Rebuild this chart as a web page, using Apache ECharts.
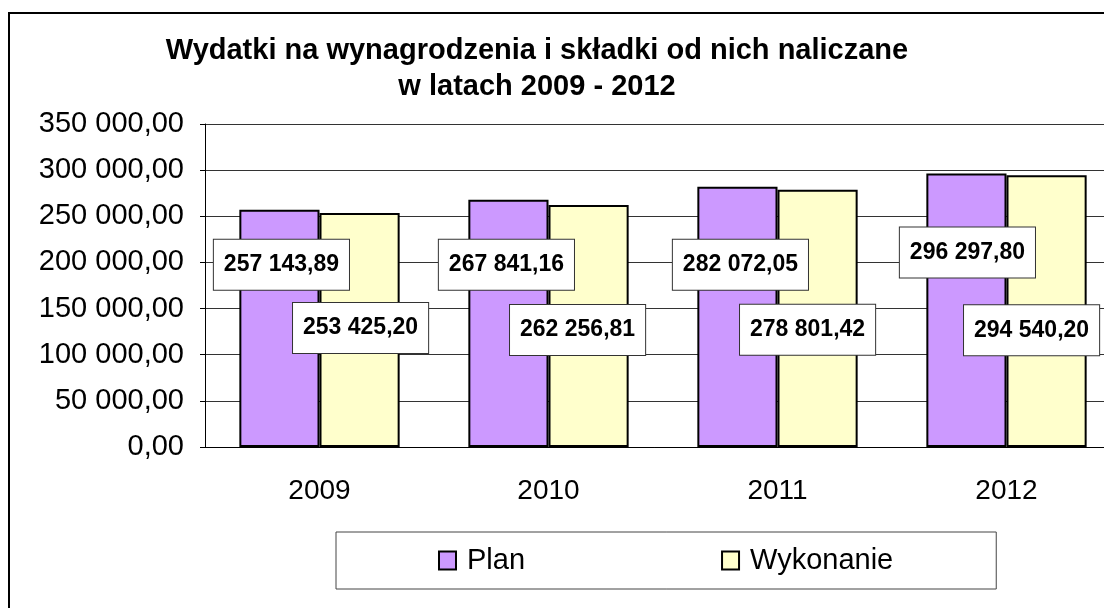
<!DOCTYPE html>
<html>
<head>
<meta charset="utf-8">
<script src="https://cdn.jsdelivr.net/npm/echarts@6/dist/echarts.min.js"></script>
<style>
  html, body { margin: 0; padding: 0; background: #fff; }
  #chart { width: 1104px; height: 608px; }
</style>
</head>
<body>
<div id="chart"></div>
<script>
const years = ['2009', '2010', '2011', '2012'];
const plan = [257143.89, 267841.16, 282072.05, 296297.80];
const wykonanie = [253425.20, 262256.81, 278801.42, 294540.20];
const seriesNames = ['Plan', 'Wykonanie'];

// where Excel put the value boxes, as [dx, dy] from the top middle of each bar
const planLabelNudge = [[2, 55], [-2, 65], [3, 78], [1, 79]];
const wykLabelNudge = [[1, 115], [-11, 125], [-10, 140], [-15, 155]];

const font = 'Arial, "Liberation Sans", sans-serif';

function fmt(v) {
    const parts = Number(v).toFixed(2).split('.');
    return parts[0].replace(/\B(?=(\d{3})+(?!\d))/g, ' ') + ',' + parts[1];
}

const valueLabel = {
    show: true,
    position: 'insideTop',
    distance: 0,
    align: 'center',
    verticalAlign: 'middle',
    formatter: p => fmt(p.value),
    fontFamily: font,
    fontSize: 23,
    fontWeight: 'bold',
    color: '#000',
    backgroundColor: '#fff',
    borderColor: '#333',
    borderWidth: 1,
    padding: [14, 10, 13, 10]
};

const chart = echarts.init(document.getElementById('chart'));
let option = {
    animation: false,
    title: {
        text: 'Wydatki na wynagrodzenia i składki od nich naliczane\nw latach 2009 - 2012',
        left: 532,
        top: 28,
        textAlign: 'center',
        textStyle: {
            fontFamily: font,
            fontSize: 29,
            fontWeight: 'bold',
            lineHeight: 36,
            color: '#000'
        }
    },
    graphic: [{
        type: 'rect',
        shape: { x: 9, y: 13, width: 1130, height: 620 },
        style: { fill: 'none', stroke: '#000', lineWidth: 2 },
        silent: true
    }],
    legend: {
        data: seriesNames,
        left: 336,
        top: 532,
        padding: [14, 103, 14, 102],
        itemGap: 196,
        itemWidth: 17,
        itemHeight: 18,
        borderColor: '#444',
        borderWidth: 1,
        icon: 'rect',
        textStyle: {
            fontFamily: font,
            fontSize: 29,
            color: '#000',
            padding: [0, 0, 0, 6]
        }
    },
    grid: {
        left: 205,
        width: 916,
        top: 124,
        height: 323,
        outerBoundsMode: 'none'
    },
    xAxis: {
        type: 'category',
        data: years,
        axisLine: { lineStyle: { color: '#000', width: 1 } },
        axisTick: { length: 8, lineStyle: { color: '#000' } },
        axisLabel: {
            margin: 30,
            fontFamily: font,
            fontSize: 28,
            color: '#000'
        }
    },
    yAxis: {
        type: 'value',
        min: 0,
        max: 350000,
        interval: 50000,
        axisLine: { show: true, lineStyle: { color: '#000', width: 1 } },
        axisTick: { show: true, length: 5, lineStyle: { color: '#000' } },
        splitLine: { lineStyle: { color: '#333', width: 1 } },
        axisLabel: {
            margin: 21,
            formatter: fmt,
            fontFamily: font,
            fontSize: 29,
            color: '#000'
        }
    },
    series: [{
        name: seriesNames[0],
        type: 'bar',
        barGap: '0%',
        barCategoryGap: '30%',
        itemStyle: { color: '#CC99FF', borderColor: '#000', borderWidth: 2 },
        label: valueLabel,
        data: plan.map((v, i) => ({ value: v, label: { offset: planLabelNudge[i] } }))
    }, {
        name: seriesNames[1],
        type: 'bar',
        barGap: '0%',
        barCategoryGap: '30%',
        itemStyle: { color: '#FFFFCC', borderColor: '#000', borderWidth: 2 },
        label: valueLabel,
        data: wykonanie.map((v, i) => ({ value: v, label: { offset: wykLabelNudge[i] } }))
    }]
};
chart.setOption(option);
</script>
</body>
</html>
